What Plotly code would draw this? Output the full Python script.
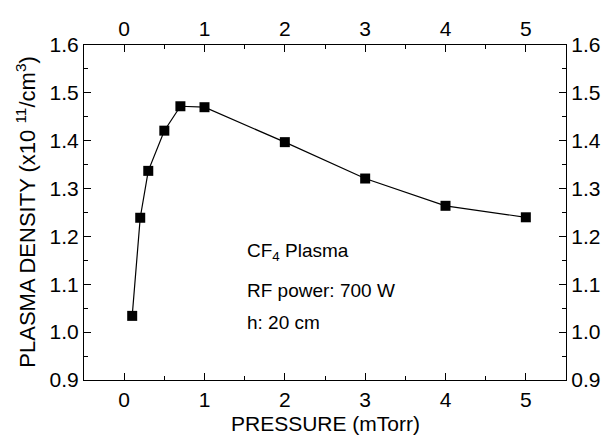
import plotly.graph_objects as go

pressure = [0.1, 0.2, 0.3, 0.5, 0.7, 1.0, 2.0, 3.0, 4.0, 5.0]
density = [1.034, 1.239, 1.337, 1.421, 1.472, 1.470, 1.397, 1.321, 1.264, 1.240]
x_ticks = [0, 1, 2, 3, 4, 5]
y_ticks = [0.9, 1.0, 1.1, 1.2, 1.3, 1.4, 1.5, 1.6]
y_labels = ["0.9", "1.0", "1.1", "1.2", "1.3", "1.4", "1.5", "1.6"]
notes = ["CF<sub>4</sub> Plasma", "RF power: 700 W", "h: 20 cm"]
note_y = [1.168, 1.086, 1.021]
y_title = "PLASMA DENSITY (x10 <sup>11</sup>/cm<sup>3</sup>)"
x_title = "PRESSURE (mTorr)"

FONT = "Liberation Sans, Arial, sans-serif"

fig = go.Figure()
fig.add_trace(go.Scatter(
    x=pressure, y=density, mode="lines+markers",
    line=dict(color="black", width=1.2),
    marker=dict(symbol="square", size=10, color="black"),
    showlegend=False,
))
# invisible trace for secondary axes
fig.add_trace(go.Scatter(x=pressure, y=density, xaxis="x2", yaxis="y2",
                         mode="markers", marker=dict(opacity=0),
                         showlegend=False, hoverinfo="skip"))

axis_common = dict(
    showline=True, linecolor="black", linewidth=1.2, mirror=False,
    ticks="inside", ticklen=7, tickwidth=1, tickcolor="black",
    showgrid=False, zeroline=False, automargin=False,
    tickfont=dict(family=FONT, size=21, color="black"),
)

fig.update_layout(
    width=609, height=435,
    margin=dict(l=84, r=43, t=45, b=55),
    paper_bgcolor="white", plot_bgcolor="white",
    font=dict(family=FONT, color="black"),
    xaxis=dict(
        **axis_common, range=[-0.5, 5.5], tickvals=x_ticks, ticklabelstandoff=1,
        minor=dict(ticks="inside", ticklen=4, dtick=0.5, tick0=0, tickcolor="black"),
    ),
    xaxis2=dict(
        **axis_common, range=[-0.5, 5.5], tickvals=x_ticks, overlaying="x",
        side="top", matches="x",
        minor=dict(ticks="inside", ticklen=4, dtick=0.5, tick0=0, tickcolor="black"),
    ),
    yaxis=dict(
        **axis_common, range=[0.9, 1.6], tickvals=y_ticks, ticktext=y_labels,
        minor=dict(ticks="inside", ticklen=4, dtick=0.05, tick0=0.9, tickcolor="black"),
    ),
    yaxis2=dict(
        **axis_common, range=[0.9, 1.6], tickvals=y_ticks, ticktext=y_labels,
        overlaying="y", side="right", matches="y",
        minor=dict(ticks="inside", ticklen=4, dtick=0.05, tick0=0.9, tickcolor="black"),
    ),
)

fig.add_annotation(
    x=-0.122, y=0.5, xref="paper", yref="paper", text=y_title, textangle=-90,
    showarrow=False, xanchor="center", yanchor="middle",
    font=dict(family=FONT, size=22, color="black"),
)
fig.add_annotation(
    x=0.5, y=-0.129, xref="paper", yref="paper", text=x_title,
    showarrow=False, xanchor="center", yanchor="middle",
    font=dict(family=FONT, size=21, color="black"),
)

for t, yv in zip(notes, note_y):
    fig.add_annotation(
        x=1.5, y=yv, xref="x", yref="y",
        text=t, showarrow=False, xanchor="left", yanchor="middle",
        font=dict(family=FONT, size=19, color="black"),
    )

fig.write_html("out.html")
